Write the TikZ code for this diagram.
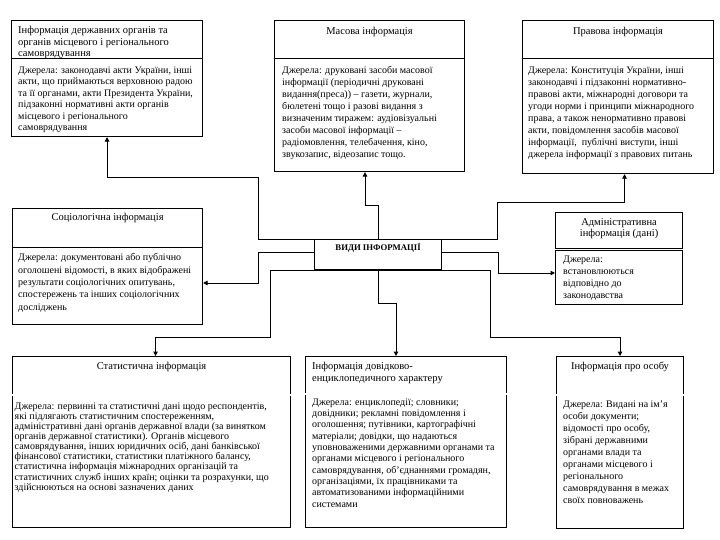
\documentclass[tikz,border=0pt]{standalone}
\usepackage{fontspec}
\setmainfont{Liberation Serif}
\usepackage{tikz}
\usetikzlibrary{arrows.meta,positioning,calc}
\tikzset{
  infobox/.style={
    rectangle, draw=black, line width=1.1pt, fill=white,
    anchor=north west, inner sep=0pt,
  },
  boxtitle/.style={font=\fontsize{10.5}{#1}\selectfont, align=center, inner sep=0pt},
  boxtitle/.default={12},
  boxtext/.style={font=\fontsize{10}{#1}\selectfont, align=left, anchor=north west, inner sep=0pt},
  boxtext/.default={12},
  divider/.style={line width=0.9pt},
  ddivider/.style={double, double distance=1.3pt, line width=0.6pt},
  arr/.style={-{Triangle[length=4.5pt,width=4.5pt]}, line width=1pt},
}

\begin{document}
\begin{tikzpicture}[x=1pt, y=-1pt]

\useasboundingbox (0,0) rectangle (720,540);
\fill[white] (0,0) rectangle (720,540);

% ===== Top row =====
\node[infobox, minimum width=191pt, minimum height=116pt] (derzh) at (11,20) {};
\node[boxtitle=11.5, align=left, anchor=north west] (derzhT) at ([xshift=7pt,yshift=-6.5pt]derzh.north west)
  {Інформація державних органів та\\органів місцевого і регіонального\\самоврядування};
\draw[divider] ([yshift=-38pt]derzh.north west) -- ([yshift=-38pt]derzh.north east);
\node[boxtext=11.5] (derzhB) at ([xshift=7pt,yshift=-46.5pt]derzh.north west)
  {Джерела: законодавчі акти України, інші\\акти, що приймаються верховною радою\\та її органами, акти Президента України,\\підзаконні нормативні акти органів\\місцевого і регіонального\\самоврядування};

\node[infobox, minimum width=190pt, minimum height=151pt] (masova) at (274,20) {};
\node[boxtitle, anchor=base] (masovaT) at ([yshift=-14.3pt]masova.north) {Масова інформація};
\draw[divider] ([yshift=-38pt]masova.north west) -- ([yshift=-38pt]masova.north east);
\node[boxtext] (masovaB) at ([xshift=8pt,yshift=-46.5pt]masova.north west)
  {Джерела: друковані засоби масової\\інформації (періодичні друковані\\видання(преса)) – газети, журнали,\\бюлетені тощо і разові видання з\\визначеним тиражем: аудіовізуальні\\засоби масової інформації –\\радіомовлення, телебачення, кіно,\\звукозапис, відеозапис тощо.};

\node[infobox, minimum width=191pt, minimum height=153pt] (pravova) at (522,20) {};
\node[boxtitle, anchor=base] (pravovaT) at ([yshift=-14.3pt]pravova.north) {Правова інформація};
\draw[divider] ([yshift=-38pt]pravova.north west) -- ([yshift=-38pt]pravova.north east);
\node[boxtext] (pravovaB) at ([xshift=6pt,yshift=-46.5pt]pravova.north west)
  {Джерела: Конституція України, інші\\законодавчі і підзаконні нормативно-\\правові акти, міжнародні договори та\\угоди норми і принципи міжнародного\\права, а також ненормативно правові\\акти, повідомлення засобів масової\\інформації,\ \ публічні виступи, інші\\джерела інформації з правових питань};

% ===== Middle row =====
\node[infobox, minimum width=190pt, minimum height=116pt] (sociol) at (12,208) {};
\node[boxtitle, anchor=base] (sociolT) at ([yshift=-12.3pt]sociol.north) {Соціологічна інформація};
\draw[divider] ([yshift=-39pt]sociol.north west) -- ([yshift=-39pt]sociol.north east);
\node[boxtext=12.3] (sociolB) at ([xshift=6pt,yshift=-45.5pt]sociol.north west)
  {Джерела: документовані або публічно\\оголошені відомості, в яких відображені\\результати соціологічних опитувань,\\спостережень та інших соціологічних\\досліджень};

\node[infobox, minimum width=127pt, minimum height=30pt] (vidy) at (314,239) {};
\node[font=\fontsize{8.7}{12}\selectfont\bfseries, inner sep=0pt, anchor=base] (vidyT) at ([yshift=-12pt]vidy.north) {ВИДИ ІНФОРМАЦІЇ};

\node[infobox, minimum width=127pt, minimum height=92pt] (admin) at (555,212) {};
\node[boxtitle=11, anchor=north] (adminT) at ([yshift=-6pt]admin.north) {Адміністративна\\інформація (дані)};
\draw[ddivider] ([yshift=-37.5pt]admin.north west) -- ([yshift=-37.5pt]admin.north east);
\node[boxtext] (adminB) at ([xshift=8pt,yshift=-43.5pt]admin.north west)
  {Джерела:\\встановлюються\\відповідно до\\законодавства};

% ===== Bottom row =====
\node[infobox, minimum width=278pt, minimum height=171pt] (stat) at (12,356) {};
\node[boxtitle, anchor=base] (statT) at ([yshift=-13.3pt]stat.north) {Статистична інформація};
\draw[ddivider] ([yshift=-39pt]stat.north west) -- ([yshift=-39pt]stat.north east);
\node[boxtext=10.1] (statB) at ([xshift=2.5pt,yshift=-46.5pt]stat.north west)
  {Джерела: первинні та статистичні дані щодо респондентів,\\які підлягають статистичним спостереженням,\\адміністративні дані органів державної влади (за винятком\\органів державної статистики). Органів місцевого\\самоврядування, інших юридичних осіб, дані банківської\\фінансової статистики, статистики платіжного балансу,\\статистична інформація міжнародних організацій та\\статистичних служб інших країн; оцінки та розрахунки, що\\здійснюються на основі зазначених даних};

\node[infobox, minimum width=201pt, minimum height=171pt] (enc) at (305,356) {};
\node[boxtitle, align=left, anchor=north west] (encT) at ([xshift=7pt,yshift=-6.5pt]enc.north west)
  {Інформація довідково-\\енциклопедичного характеру};
\draw[ddivider] ([yshift=-38pt]enc.north west) -- ([yshift=-38pt]enc.north east);
\node[boxtext=11.3] (encB) at ([xshift=7pt,yshift=-42.5pt]enc.north west)
  {Джерела: енциклопедії; словники;\\довідники; рекламні повідомлення і\\оголошення; путівники, картографічні\\матеріали; довідки, що надаються\\уповноваженими державними органами та\\органами місцевого і регіонального\\самоврядування, об’єднаннями громадян,\\організаціями, їх працівниками та\\автоматизованими інформаційними\\системами};

\node[infobox, minimum width=127pt, minimum height=172pt] (person) at (556,356) {};
\node[boxtitle, anchor=base] (personT) at ([yshift=-13.3pt]person.north) {Інформація про особу};
\draw[ddivider] ([yshift=-39pt]person.north west) -- ([yshift=-39pt]person.north east);
\node[boxtext] (personB) at ([xshift=7pt,yshift=-44.5pt]person.north west)
  {Джерела: Видані на ім’я\\особи документи;\\відомості про особу,\\зібрані державними\\органами влади та\\органами місцевого і\\регіонального\\самоврядування в межах\\своїх повноважень};

% ===== Connectors =====
\coordinate (jl) at (258,178);
\coordinate (jm) at (365,206);
\coordinate (jr) at (497,203);
\coordinate (jsl) at (258,283);
\coordinate (jar) at (498,273);
\coordinate (jbl) at (270,337);
\coordinate (jbm) at (396,303);
\coordinate (jbr) at (490,337);

\draw[arr] (vidy.north) -| (jl) -| (derzh.south);
\draw[arr] (vidy.north) |- (jm) -- (jm |- masova.south);
\draw[arr] (vidy.north) -| (jr) -| ([xshift=6.5pt]pravova.south);
\draw[arr] ([yshift=2pt]vidy.west) -| (jsl) -- (jsl -| sociol.east);
\draw[arr] ([yshift=2pt]vidy.east) -| (jar) -- (jar -| admin.west);
\draw[arr] (vidy.south) -| (jbl) -| ([xshift=4pt]stat.north);
\draw[arr] (vidy.south) |- (jbm) -- (jbm |- enc.north);
\draw[arr] (vidy.south) -| (jbr) -| (person.north);

\end{tikzpicture}
\end{document}
